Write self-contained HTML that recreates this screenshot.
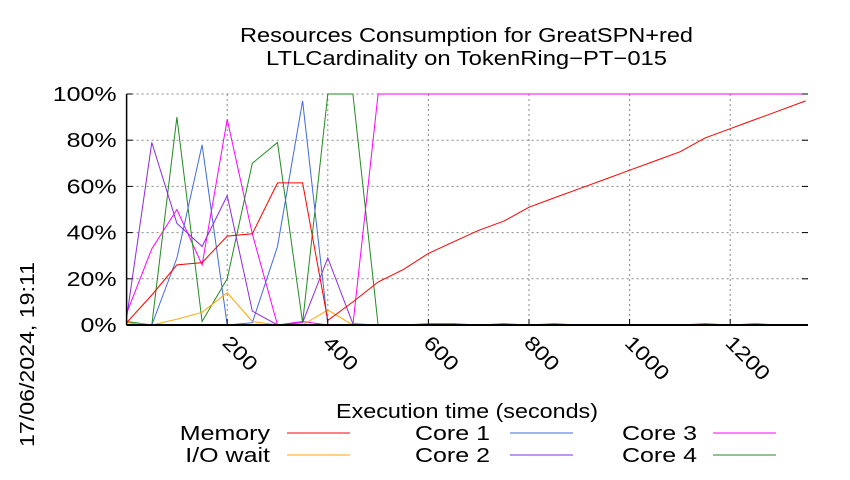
<!DOCTYPE html>
<html><head><meta charset="utf-8"><style>
body{margin:0;background:#fff;}
svg text{font-family:"Liberation Sans",sans-serif;fill:#000;}
</style></head><body>
<svg width="850" height="475" viewBox="0 0 850 475">
<g id="grid"></g>
<g id="series"></g>
<g id="axes"></g>
<text x="240" y="42" font-size="20" textLength="453" lengthAdjust="spacingAndGlyphs">Resources Consumption for GreatSPN+red</text>
<text x="266" y="65" font-size="20" textLength="401" lengthAdjust="spacingAndGlyphs">LTLCardinality on TokenRing−PT−015</text>
<text x="336" y="418" font-size="20" textLength="262" lengthAdjust="spacingAndGlyphs">Execution time (seconds)</text>
<text transform="translate(34,447) rotate(-90)" font-size="20" textLength="185" lengthAdjust="spacingAndGlyphs">17/06/2024, 19:11</text>
<g id="legend"></g>
</svg>
<script>
const times=[0,50,100,150,200,250,300,350,400,450,500,550,600,650,700,750,800,850,900,950,1000,1050,1100,1150,1200,1250,1300,1350];
const memory=[1,13,26,27,38.5,39.5,61.5,61.5,2,10,18.6,24,31,36,41,45,51,55,59,63,67,71,75,81,85,89,93,97];
const core1=[1,0,29,78,0,1,34,97,0,0,0,0,0,0,0,0,0,0,0,0,0,0,0,0,0,0,0,0];
const core2=[3,79,44,34,56,6,0,1,29,0.5,0,0,0.5,0.5,0,0.5,0,0.5,0,0,0,0,0,0.5,0,0.5,0,0];
const core3=[5,33,50,26,89,39.5,0,1.5,0,0,100,100,100,100,100,100,100,100,100,100,100,100,100,100,100,100,100,100];
const core4=[1.5,0,90,1.5,20,70,79,1,100,100,0,0,0,0,0,0,0,0,0,0,0,0,0,0,0,0,0,0];
const iowait=[1,0,2.5,5.5,14,1.5,0,0,6.5,0,0,0,0,0,0,0,0,0,0,0,0,0,0,0,0,0,0,0];
const xTicks=[200,400,600,800,1000,1200];
const yTicks=[0,20,40,60,80,100];
const L=126.6,R=808,T=94,B=325;
const xs=t=>L+t*0.503;
const ys=v=>B-(B-T)*v/100;
const NS="http://www.w3.org/2000/svg";
function mk(tag,attrs,parent){const e=document.createElementNS(NS,tag);for(const k in attrs)e.setAttribute(k,attrs[k]);parent.appendChild(e);return e;}
const grid=document.getElementById('grid'),axes=document.getElementById('axes'),ser=document.getElementById('series'),leg=document.getElementById('legend');
yTicks.forEach(v=>{
 const y=ys(v);
 if(v>0){const g=mk('line',{x1:L,x2:R,y1:y,y2:y,stroke:'#888','stroke-dasharray':'2,3','stroke-width':1},grid);
 }
 const t1=mk('line',{x1:L,x2:L+6,y1:y,y2:y,stroke:'#000'},axes);
 const t2=mk('line',{x1:R-6,x2:R,y1:y,y2:y,stroke:'#000'},axes);
 const tx=mk('text',{transform:`translate(${L-10},${y+7}) scale(1.25,1)`,'font-size':20,'text-anchor':'end'},axes);tx.textContent=v+'%';
 
});
xTicks.forEach(v=>{
 const x=xs(v);
 const g=mk('line',{x1:x,x2:x,y1:T,y2:B,stroke:'#888','stroke-dasharray':'2,3','stroke-width':1},grid);
 
 const t1=mk('line',{x1:x,x2:x,y1:B-6,y2:B,stroke:'#000'},axes);
 const tx=mk('text',{transform:`translate(${x-6},${B+19}) rotate(45) scale(1.2,1)`,'font-size':20},axes);tx.textContent=v;
 
});
const ax1=mk('line',{x1:L,x2:L,y1:T,y2:B,stroke:'#000','stroke-width':1.5},axes);
const ax2=mk('line',{x1:L,x2:R,y1:B,y2:B,stroke:'#000','stroke-width':2},axes);
const series=[
 ['memory','Memory',memory,'#ff0000',270,287,433],
 ['iowait','I/O wait',iowait,'#ffa500',270,287,455],
 ['core1','Core 1',core1,'#4169e1',490,510,433],
 ['core2','Core 2',core2,'#8a2be2',490,510,455],
 ['core3','Core 3',core3,'#ff00ff',697,713,433],
 ['core4','Core 4',core4,'#228b22',697,713,455]
];
[4,5,2,3,1,0].forEach(i=>{
 const s=series[i];
 const p=mk('polyline',{points:s[2].map((v,j)=>xs(times[j]).toFixed(1)+','+ys(v).toFixed(1)).join(' '),fill:'none',stroke:s[3],'stroke-width':1},ser);
 
});
series.forEach(s=>{
 const tx=mk('text',{transform:`translate(${s[4]},${s[6]+7}) scale(1.25,1)`,'font-size':20,'text-anchor':'end'},leg);tx.textContent=s[1];
 
 const l=mk('line',{x1:s[5],x2:s[5]+63,y1:s[6],y2:s[6],stroke:s[3],'stroke-width':1},leg);
 
});
</script>
</body></html>
